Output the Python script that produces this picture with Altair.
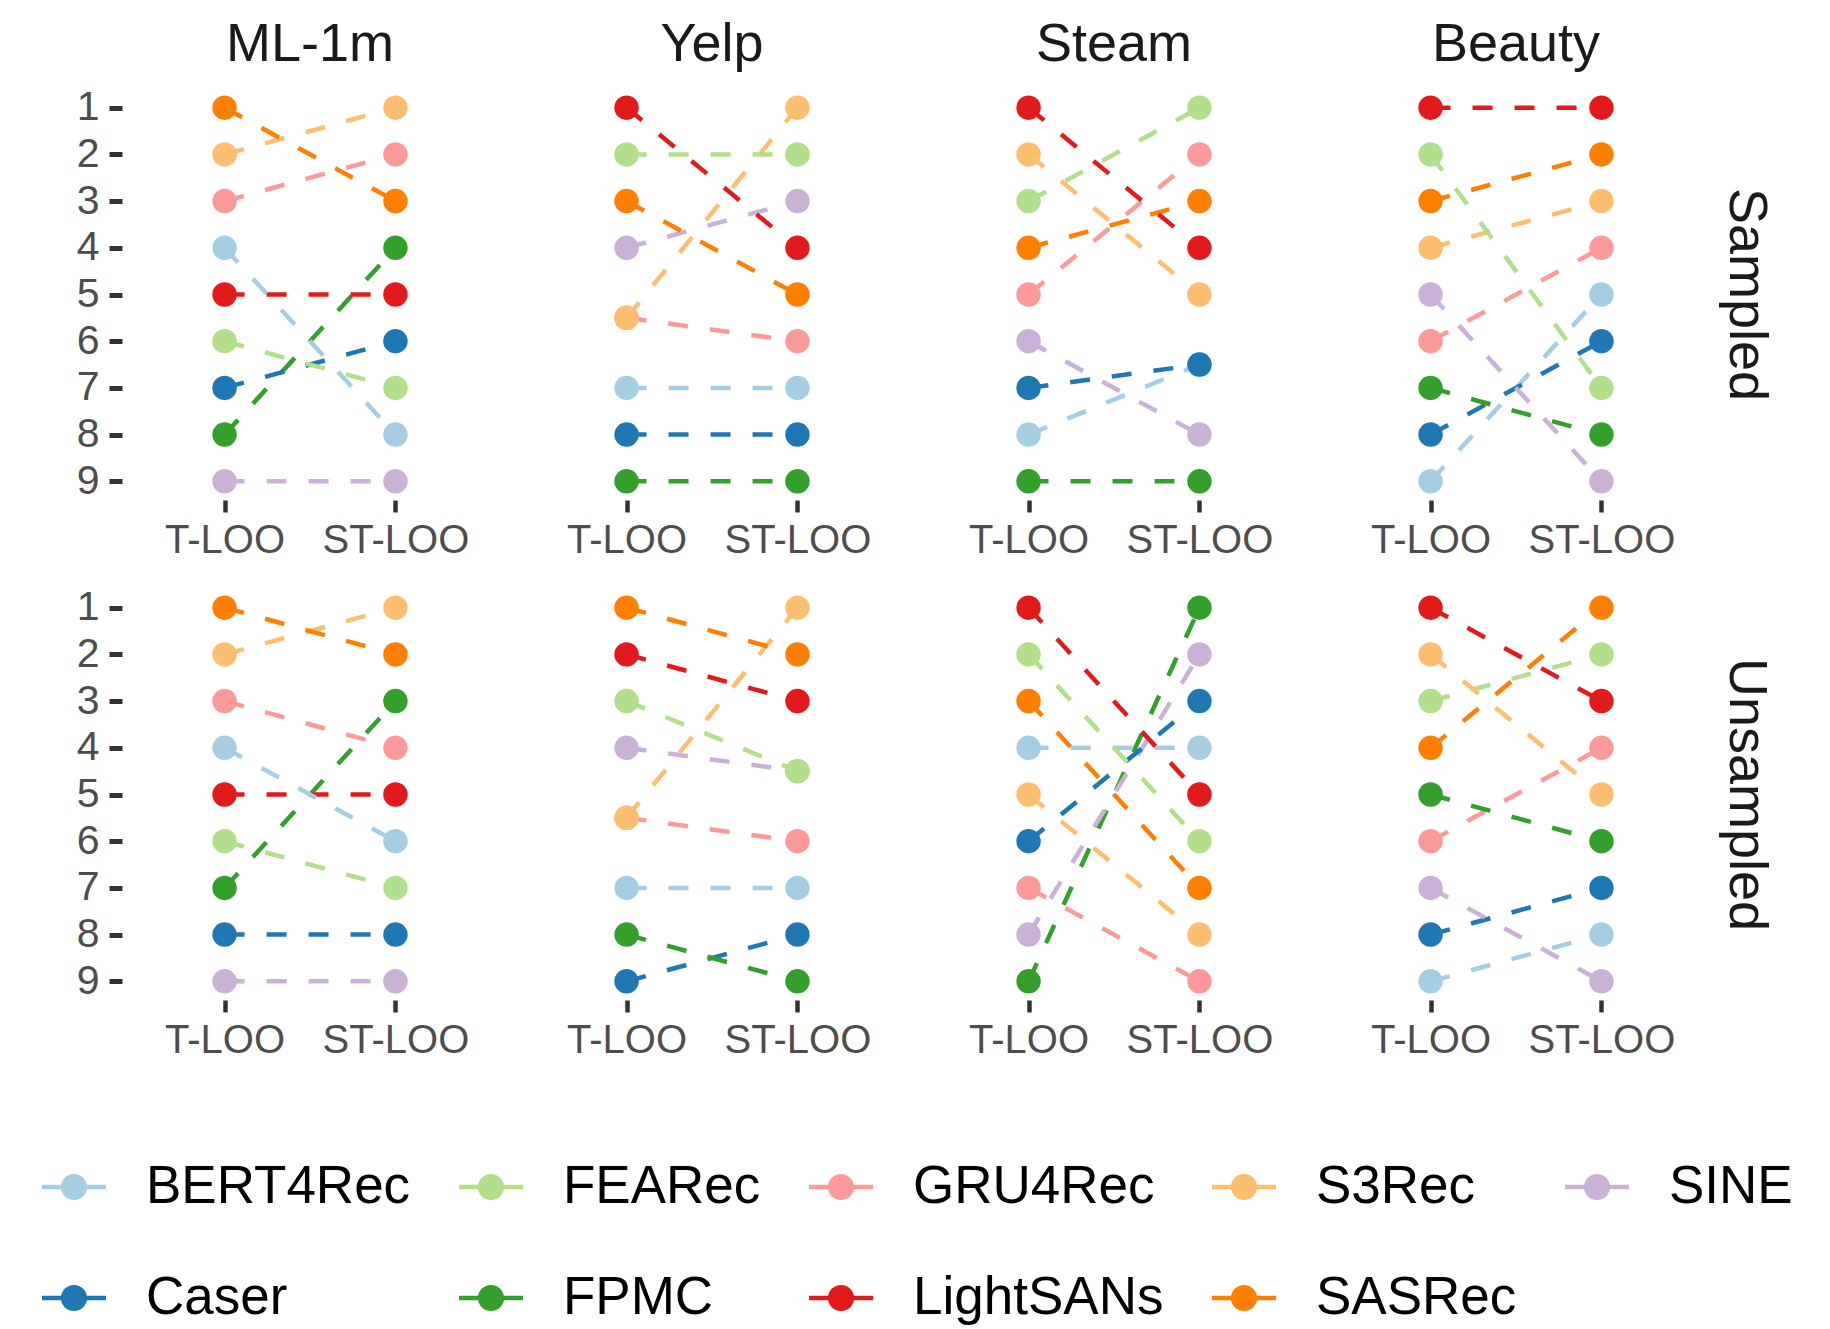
import altair as alt
import pandas as pd

# ---------------- data ----------------
methods = ["BERT4Rec", "Caser", "FEARec", "FPMC", "GRU4Rec", "LightSANs", "S3Rec", "SASRec", "SINE"]
datasets = ["ML-1m", "Yelp", "Steam", "Beauty"]
evaluations = ["Sampled", "Unsampled"]
settings = ["T-LOO", "ST-LOO"]
rank_ticks = [1, 2, 3, 4, 5, 6, 7, 8, 9]

# ranks, listed in the order of `methods`
sampled_ml1m_tloo = [4, 7, 6, 8, 3, 5, 2, 1, 9]
sampled_ml1m_stloo = [8, 6, 7, 4, 2, 5, 1, 3, 9]
sampled_yelp_tloo = [7, 8, 2, 9, 5.5, 1, 5.5, 3, 4]
sampled_yelp_stloo = [7, 8, 2, 9, 6, 4, 1, 5, 3]
sampled_steam_tloo = [8, 7, 3, 9, 5, 1, 2, 4, 6]
sampled_steam_stloo = [6.5, 6.5, 1, 9, 2, 4, 5, 3, 8]
sampled_beauty_tloo = [9, 8, 2, 7, 6, 1, 4, 3, 5]
sampled_beauty_stloo = [5, 6, 7, 8, 4, 1, 3, 2, 9]

unsampled_ml1m_tloo = [4, 8, 6, 7, 3, 5, 2, 1, 9]
unsampled_ml1m_stloo = [6, 8, 7, 3, 4, 5, 1, 2, 9]
unsampled_yelp_tloo = [7, 9, 3, 8, 5.5, 2, 5.5, 1, 4]
unsampled_yelp_stloo = [7, 8, 4.5, 9, 6, 3, 1, 2, 4.5]
unsampled_steam_tloo = [4, 6, 2, 9, 7, 1, 5, 3, 8]
unsampled_steam_stloo = [4, 3, 6, 1, 9, 5, 8, 7, 2]
unsampled_beauty_tloo = [9, 8, 3, 5, 6, 1, 2, 4, 7]
unsampled_beauty_stloo = [8, 7, 2, 6, 4, 3, 5, 1, 9]

legend_order = ["BERT4Rec", "FEARec", "GRU4Rec", "S3Rec", "SINE",
                "Caser", "FPMC", "LightSANs", "SASRec"]
legend_colors = ["#A6CEE3", "#B2DF8A", "#FB9A99", "#FDBF6F", "#CAB2D6",
                 "#1F78B4", "#33A02C", "#E31A1C", "#FF7F00"]

panels = [
    ("Sampled", "ML-1m", sampled_ml1m_tloo, sampled_ml1m_stloo),
    ("Sampled", "Yelp", sampled_yelp_tloo, sampled_yelp_stloo),
    ("Sampled", "Steam", sampled_steam_tloo, sampled_steam_stloo),
    ("Sampled", "Beauty", sampled_beauty_tloo, sampled_beauty_stloo),
    ("Unsampled", "ML-1m", unsampled_ml1m_tloo, unsampled_ml1m_stloo),
    ("Unsampled", "Yelp", unsampled_yelp_tloo, unsampled_yelp_stloo),
    ("Unsampled", "Steam", unsampled_steam_tloo, unsampled_steam_stloo),
    ("Unsampled", "Beauty", unsampled_beauty_tloo, unsampled_beauty_stloo),
]

rows = []
for ev, ds, t_ranks, s_ranks in panels:
    items = sorted(zip(methods, t_ranks, s_ranks), key=lambda r: (-r[1], r[0]))
    for m, t, s in items:
        rows.append({"evaluation": ev, "dataset": ds, "method": m, "setting": settings[0], "pos": 0, "rank": t})
        rows.append({"evaluation": ev, "dataset": ds, "method": m, "setting": settings[1], "pos": 1, "rank": s})
df = pd.DataFrame(rows)

# ---------------- chart ----------------
FONT = "Liberation Sans"
color_scale = alt.Scale(domain=legend_order, range=legend_colors)

legend_symbol = ("M-1,-0.07L-0.38,-0.07L-0.38,0.07L-1,0.07Z "
                 "M0.38,-0.07L1,-0.07L1,0.07L0.38,0.07Z "
                 "M0.41,0A0.41,0.41,0,1,1,-0.41,0A0.41,0.41,0,1,1,0.41,0Z")

legend = alt.Legend(title=None, orient="none", direction="horizontal",
                    columns=5, legendX=-80, legendY=1066,
                    symbolType=legend_symbol, symbolSize=4096,
                    symbolStrokeWidth=0, symbolOpacity=1,
                    labelFontSize=53, labelFont=FONT, labelColor="#000000",
                    labelOffset=40, columnPadding=48, rowPadding=52,
                    labelLimit=400)

x_enc = alt.X("setting:N", sort=settings,
              scale=alt.Scale(type="point", padding=0.6),
              axis=alt.Axis(title=None, labelAngle=0, domain=False, grid=False,
                            labelFontSize=40, labelColor="#4D4D4D", labelFont=FONT,
                            tickSize=12, tickWidth=4.5, tickColor="#333333",
                            labelPadding=8))
y_enc = alt.Y("rank:Q",
              scale=alt.Scale(domain=[0.6, 9.4], reverse=True, nice=False, zero=False),
              axis=alt.Axis(title=None, values=rank_ticks, domain=False, grid=False,
                            labelOverlap=False,
                            labelFontSize=41, labelColor="#4D4D4D", labelFont=FONT,
                            tickSize=13, tickWidth=5, tickColor="#333333",
                            labelPadding=10))

lines = alt.Chart().mark_line(strokeDash=[20, 22], strokeWidth=4.5).encode(
    x=x_enc, y=y_enc,
    color=alt.Color("method:N", scale=color_scale, legend=legend),
    detail="method:N",
    order="pos:Q",
)
points = alt.Chart().mark_circle(size=600, opacity=1).encode(
    x=x_enc, y=y_enc,
    color=alt.Color("method:N", scale=color_scale, legend=legend),
)

chart = alt.layer(lines, points).properties(width=376, height=411).facet(
    row=alt.Row("evaluation:N", sort=evaluations, title=None,
                header=alt.Header(labelOrient="right", labelAngle=90, labelFontSize=54,
                                  labelFont=FONT, labelColor="#1A1A1A", labelPadding=15)),
    column=alt.Column("dataset:N", sort=datasets, title=None,
                      header=alt.Header(labelOrient="top", labelFontSize=54,
                                        labelFont=FONT, labelColor="#1A1A1A", labelPadding=17)),
    data=df,
    spacing={"row": 29, "column": 26},
).resolve_axis(x="independent").configure_view(stroke=None).properties(
    padding={"left": 42, "top": 18, "right": 10, "bottom": 5},
    background="white",
)

chart.save("out.html", embed_options={"renderer": "svg", "actions": False})
